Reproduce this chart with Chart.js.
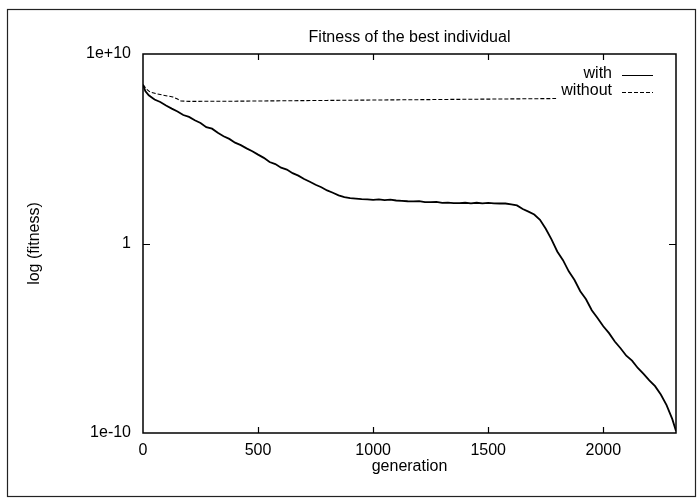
<!DOCTYPE html>
<html><head><meta charset="utf-8">
<script src="https://cdn.jsdelivr.net/npm/chart.js@4/dist/chart.umd.min.js"></script>
<style>html,body{margin:0;padding:0;background:#fff}#wrap{width:699px;height:498px;position:relative}canvas{display:block}</style>
</head><body><div id="wrap"><canvas id="c" width="699" height="498"></canvas></div>
<script>
const chartTitle = "Fitness of the best individual";
const xAxisTitle = "generation";
const yAxisTitle = "log (fitness)";
const seriesNames = ["with", "without"];

const withGenerations = [0,10,25,50,75,100,125,150,175,200,225,250,275,300,325,350,375,400,425,450,475,500,
  525,550,575,600,625,650,675,700,725,750,775,800,825,850,875,900,925,950,975,1000,1025,1050,1075,1100,
  1125,1150,1175,1200,1225,1250,1275,1300,1325,1350,1375,1400,1425,1450,1475,1500,1525,1550,1575,1600,
  1625,1650,1675,1700,1725,1750,1775,1800,1825,1850,1875,1900,1925,1950,1975,2000,2025,2050,2075,2100,
  2125,2150,2175,2200,2225,2250,2275,2300,2316];
const withLogFitness = [8.38,8.05,7.82,7.60,7.47,7.28,7.12,6.97,6.78,6.68,6.50,6.36,6.14,6.06,5.84,5.66,5.52,5.32,5.19,5.02,4.87,4.69,
  4.52,4.30,4.19,4.00,3.90,3.71,3.58,3.40,3.26,3.10,2.97,2.80,2.68,2.54,2.45,2.39,2.37,2.34,2.33,2.30,2.33,2.29,2.31,2.27,
  2.25,2.23,2.22,2.24,2.18,2.18,2.20,2.14,2.16,2.13,2.13,2.15,2.12,2.15,2.12,2.14,2.12,2.11,2.11,2.07,
  2.01,1.82,1.68,1.53,1.25,0.78,0.22,-0.42,-0.88,-1.47,-1.93,-2.52,-2.94,-3.52,-3.93,-4.37,-4.73,-5.17,-5.53,-5.92,
  -6.18,-6.57,-6.88,-7.22,-7.53,-7.97,-8.53,-9.27,-9.90];

const withoutGenerations = [0,15,30,60,100,130,150,165,200,400,600,800,1000,1200,1400,1600,1795];
const withoutLogFitness = [8.38,8.15,8.00,7.90,7.80,7.73,7.62,7.52,7.50,7.51,7.53,7.55,7.57,7.59,7.61,7.63,7.65];

const xTickValues = [0,500,1000,1500,2000];
const xTickLabels = ["0","500","1000","1500","2000"];
const yTickValues = [1e-10, 1, 1e10];
const yTickLabels = ["1e-10","1","1e+10"];
const xMin = 0, xMax = 2316;
const yMin = 1e-10, yMax = 1e10;

const FONT = '"Liberation Sans", Arial, Helvetica, sans-serif';

function toPoints(gens, logs){ return gens.map((g,i)=>({x:g, y:Math.pow(10, logs[i])})); }

const decor = {
  id:'decor',
  beforeDraw(chart){
    const ctx = chart.ctx;
    ctx.save();
    ctx.fillStyle = '#fff';
    ctx.fillRect(0,0,chart.width,chart.height);
    ctx.strokeStyle = '#222';
    ctx.lineWidth = 1.2;
    ctx.strokeRect(7.5, 9.5, 688, 487);
    ctx.restore();
  },
  afterDatasetsDraw(chart){
    const ctx = chart.ctx, ca = chart.chartArea;
    const xs = chart.scales.x, ys = chart.scales.y;
    ctx.save();
    ctx.strokeStyle = '#000';
    ctx.lineWidth = 1.5;
    ctx.strokeRect(ca.left, ca.top, ca.right-ca.left, ca.bottom-ca.top);
    ctx.lineWidth = 1.2;
    ctx.beginPath();
    xTickValues.forEach(v=>{
      const px = Math.round(xs.getPixelForValue(v))+0.5;
      if (px <= ca.left+1 || px >= ca.right-1) return;
      ctx.moveTo(px, ca.bottom); ctx.lineTo(px, ca.bottom-6);
      ctx.moveTo(px, ca.top); ctx.lineTo(px, ca.top+6);
    });
    yTickValues.forEach(v=>{
      const py = Math.round(ys.getPixelForValue(v))+0.5;
      if (py <= ca.top+1 || py >= ca.bottom-1) return;
      ctx.moveTo(ca.left, py); ctx.lineTo(ca.left+7, py);
      ctx.moveTo(ca.right, py); ctx.lineTo(ca.right-7, py);
    });
    ctx.stroke();
    ctx.fillStyle = '#000';
    ctx.font = '16px ' + FONT;
    ctx.textAlign = 'center';
    ctx.textBaseline = 'middle';
    ctx.fillText(chartTitle, (ca.left+ca.right)/2, 38);
    const keyRight = 612, sx0 = 622, sx1 = 653;
    const rows = [74, 91];
    ctx.textAlign = 'right';
    chart.data.datasets.forEach((ds,i)=>{
      ctx.fillText(ds.label, keyRight, rows[i]);
      ctx.beginPath();
      ctx.setLineDash(ds.borderDash || []);
      ctx.lineWidth = 1;
      ctx.strokeStyle = ds.borderColor;
      ctx.moveTo(sx0, rows[i]+1.5); ctx.lineTo(sx1, rows[i]+1.5);
      ctx.stroke();
    });
    ctx.setLineDash([]);
    ctx.restore();
  }
};

new Chart(document.getElementById('c'), {
  type: 'line',
  data: {
    datasets: [
      { label: seriesNames[0], data: toPoints(withGenerations, withLogFitness), borderColor:'#000', borderWidth:1.8, pointRadius:0, tension:0, fill:false },
      { label: seriesNames[1], data: toPoints(withoutGenerations, withoutLogFitness), borderColor:'#000', borderWidth:1.1, borderDash:[4,2], pointRadius:0, tension:0, fill:false }
    ]
  },
  options: {
    responsive:false, animation:false, devicePixelRatio:1,
    layout:{ padding:{ left:0, top:54, right:23, bottom:0 } },
    plugins:{ legend:{display:false}, tooltip:{enabled:false}, title:{display:false} },
    scales:{
      x:{
        type:'linear', min:xMin, max:xMax,
        afterBuildTicks(s){ s.ticks = xTickValues.map(v=>({value:v})); },
        afterFit(s){ s.height = 65; },
        ticks:{ color:'#000', font:{family:FONT, size:16}, padding:8, maxRotation:0, autoSkip:false,
          callback(v, i){ return xTickLabels[i]; } },
        grid:{ display:false, drawTicks:false },
        border:{ display:false },
        title:{ display:true, text:xAxisTitle, color:'#000', font:{family:FONT, size:16}, padding:{top:0, bottom:22} }
      },
      y:{
        type:'logarithmic', min:yMin, max:yMax,
        afterBuildTicks(s){ s.ticks = yTickValues.map(v=>({value:v})); },
        afterFit(s){ s.width = 143; },
        ticks:{ color:'#000', font:{family:FONT, size:16}, padding:12, autoSkip:false,
          callback(v, i){ return yTickLabels[i]; } },
        grid:{ display:false, drawTicks:false },
        border:{ display:false },
        title:{ display:true, text:yAxisTitle, color:'#000', font:{family:FONT, size:16}, padding:{top:25, bottom:0} }
      }
    }
  },
  plugins:[decor]
});
</script>
</body></html>
